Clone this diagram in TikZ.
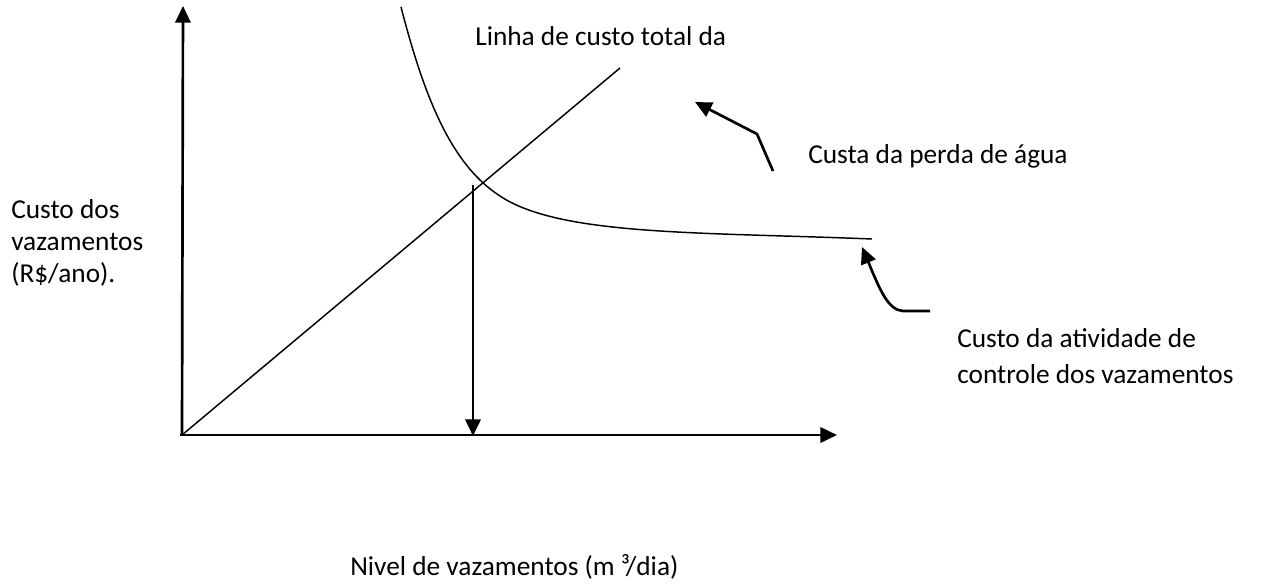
\documentclass[tikz,border=0pt]{standalone}
\usepackage{fontspec}
\setmainfont{Carlito}
\usetikzlibrary{arrows.meta}
\begin{document}
\begin{tikzpicture}[x=0.75pt,y=-0.75pt,
  head/.style={-{Triangle[length=12.5pt,width=11.5pt]}},
  axis/.style={line width=2pt,head},
  thin/.style={line width=1.1pt},
  lbl/.style={font=\fontsize{20.5}{24}\selectfont,inner sep=0pt,anchor=base west}]
\useasboundingbox (0,0) rectangle (1268,586);
\coordinate (O) at (182,435);
\coordinate (Ytop) at (183,6);
\coordinate (Xend) at (837,435);
\draw[axis] (O) -- (Ytop);
\draw[axis] (180,435) -- (Xend);
\coordinate (Dend) at (620,68);
\draw[thin] (O) -- (Dend);
\coordinate (C0) at (401,7);
\coordinate (C1) at (500,196);
\coordinate (C2) at (872,239);
\draw[thin] (C0) .. controls (425,100) and (452,165) .. (C1) .. controls (560,236) and (700,232) .. (C2);
\coordinate (Vtop) at (473,185);
\coordinate (Vbot) at (473,436);
\draw[axis] (Vtop) -- (Vbot);
\coordinate (A1s) at (773,171);
\coordinate (A1m) at (757,134);
\coordinate (A1e) at (695,102);
\draw[line width=2pt,head] (A1s) -- (A1m) -- (A1e);
\coordinate (A2s) at (930,311);
\coordinate (A2m) at (903,311);
\coordinate (A2e) at (862,247);
\draw[line width=2pt,head] (A2s) -- (A2m) .. controls (888,310) and (880,290) .. (A2e);
\node[lbl] (t1) at (475,45) {Linha de custo total da};
\node[lbl] (t2) at (808,163) {Custa da perda de água};
\node[lbl] (t3a) at (11,218) {Custo dos};
\node[lbl] (t3b) at (11,250) {vazamentos};
\node[lbl] (t3c) at (11,282) {(R\$/ano).};
\node[lbl] (t4a) at (957,347) {Custo da atividade de};
\node[lbl] (t4b) at (957,383) {controle dos vazamentos};
\node[lbl] (t5) at (350,575) {Nivel de vazamentos (m ³/dia)};
\end{tikzpicture}
\end{document}
